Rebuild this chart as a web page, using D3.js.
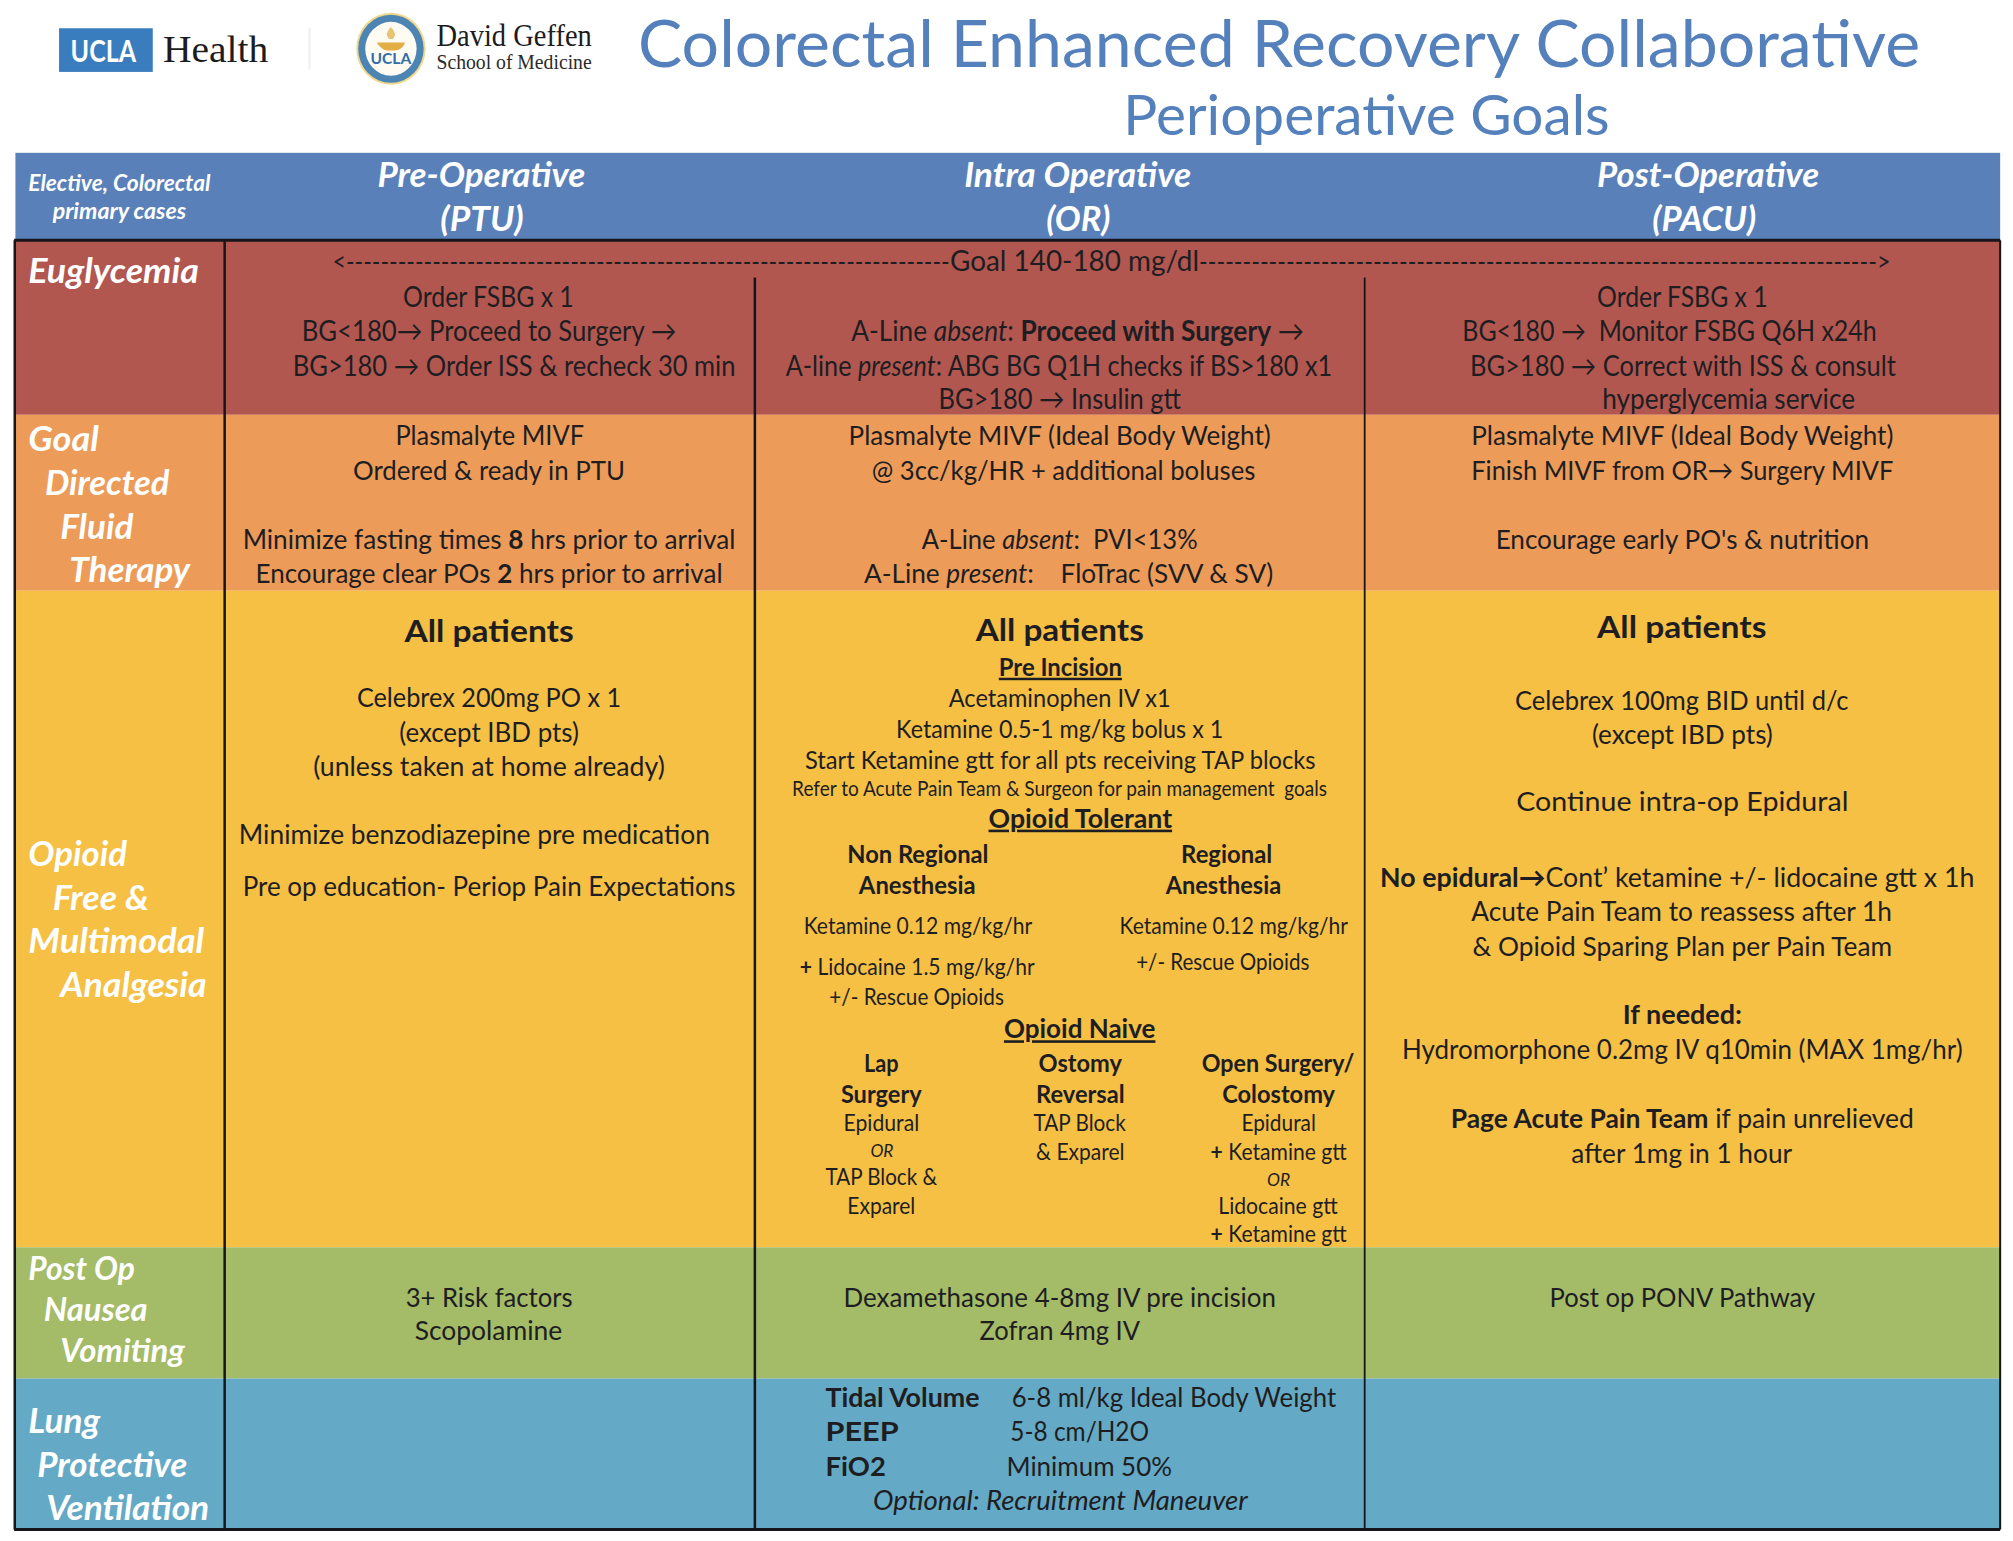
<!DOCTYPE html>
<html><head><meta charset="utf-8">
<script src="https://cdn.jsdelivr.net/npm/d3@7/dist/d3.min.js"></script>
<style>html,body{margin:0;background:#fff}svg{display:block}text{white-space:pre;font-family:Lato,Carlito,sans-serif}</style>
</head><body><div id="c"></div>
<script>
// ---- content ----
const titleLines = ["Colorectal Enhanced Recovery Collaborative","Perioperative Goals"];
const columnLabels = ["Pre-Operative","(PTU)","Intra Operative","(OR)","Post-Operative","(PACU)"];
const cornerLabels = ["Elective, Colorectal","primary cases"];
const rowNames = ["Euglycemia","Goal Directed Fluid Therapy","Opioid Free & Multimodal Analgesia","Post Op Nausea Vomiting","Lung Protective Ventilation"];
const rowLabelLines = ["Euglycemia","Goal","Directed","Fluid","Therapy","Opioid","Free &","Multimodal","Analgesia","Post Op","Nausea","Vomiting","Lung","Protective","Ventilation"];
const goalLine = ["<----------------------------------------------------------------------","Goal 140-180 mg/dl","------------------------------------------------------------------------------>"];
const euPre = ["Order FSBG x 1","BG<180→ Proceed to Surgery →","BG>180 → Order ISS & recheck 30 min"];
const euIntra = ["A-Line ~~absent~~: **Proceed with Surgery** →","A-line ~~present~~: ABG BG Q1H checks if BS>180 x1","BG>180 → Insulin gtt"];
const euPost = ["Order FSBG x 1","BG<180 →  Monitor FSBG Q6H x24h","BG>180 → Correct with ISS & consult","hyperglycemia service"];
const fluidPre = ["Plasmalyte MIVF","Ordered & ready in PTU","Minimize fasting times **8** hrs prior to arrival","Encourage clear POs **2** hrs prior to arrival"];
const fluidIntra = ["Plasmalyte MIVF (Ideal Body Weight)","@ 3cc/kg/HR + additional boluses","A-Line ~~absent~~:  PVI<13%","A-Line ~~present~~:    FloTrac (SVV & SV)"];
const fluidPost = ["Plasmalyte MIVF (Ideal Body Weight)","Finish MIVF from OR→ Surgery MIVF","Encourage early PO's & nutrition"];
const painPre = ["**All patients**","Celebrex 200mg PO x 1","(except IBD pts)","(unless taken at home already)","Minimize benzodiazepine pre medication","Pre op education- Periop Pain Expectations"];
const painIntraTop = ["**All patients**","__Pre Incision__","Acetaminophen IV x1","Ketamine 0.5-1 mg/kg bolus x 1","Start Ketamine gtt for all pts receiving TAP blocks","Refer to Acute Pain Team & Surgeon for pain management  goals","__Opioid Tolerant__"];
const painTolerant = ["**Non Regional**","**Anesthesia**","**Regional**","**Anesthesia**","Ketamine 0.12 mg/kg/hr","Ketamine 0.12 mg/kg/hr","**+** Lidocaine 1.5 mg/kg/hr","+/- Rescue Opioids","+/- Rescue Opioids"];
const painNaive = ["__Opioid Naive__","**Lap**","**Surgery**","**Ostomy**","**Reversal**","**Open Surgery/**","**Colostomy**","Epidural","~~OR~~","TAP Block &","Exparel","TAP Block","& Exparel","Epidural","**+** Ketamine gtt","~~OR~~","Lidocaine gtt","**+** Ketamine gtt"];
const painPost = ["**All patients**","Celebrex 100mg BID until d/c","(except IBD pts)","Continue intra-op Epidural","**No epidural→**Cont’ ketamine +/- lidocaine gtt x 1h","Acute Pain Team to reassess after 1h","& Opioid Sparing Plan per Pain Team","**If needed:**","Hydromorphone 0.2mg IV q10min (MAX 1mg/hr)","**Page Acute Pain Team** if pain unrelieved","after 1mg in 1 hour"];
const ponvPre = ["3+ Risk factors","Scopolamine"];
const ponvIntra = ["Dexamethasone 4-8mg IV pre incision","Zofran 4mg IV"];
const ponvPost = ["Post op PONV Pathway"];
const lungIntra = ["**Tidal Volume**","6-8 ml/kg Ideal Body Weight","**PEEP**","5-8 cm/H2O","**FiO2**","Minimum 50%","~~Optional: Recruitment Maneuver~~"];

// ---- layout (reference coordinates in the 1568×1200 view): [left, right, baseline, font px] ----
const W=2013,H=1541;
const x=d3.scaleLinear().domain([0,1568]).range([0,W]);
const y=d3.scaleLinear().domain([0,1200]).range([0,H]);
const bandY=[187,323,460,971.3,1073.5,1191];
const rowFill=["#B25650","#EC9B58","#F5C044","#A4BB67","#64A9C5"];
const headFill="#5A80B9", ink="#1E1E22";
const B=27,E=28,S=24.5,K=22.5;
const L={
 euPre:[[314,447,238.7,E],[235,527,265.7,E],[228,573,292.7,E]],
 euIntra:[[663,1016,265.7,E],[612,1038,292.7,E],[731,920,318.7,E]],
 euPost:[[1244,1377,238.7,E],[1139,1462,265.7,E],[1145,1477,292.7,E],[1248,1445,318.7,E]],
 fluidPre:[[308,455,346.7,B],[275,487,373.7,B],[189,573,427.7,B],[199,563,453.7,B]],
 fluidIntra:[[661,990,346.7,B],[679,978,373.7,B],[718,933,427.5,B],[673,992,453.7,B]],
 fluidPost:[[1146,1475,346.7,B],[1146,1475,373.7,B],[1165,1456,427.5,B]],
 painPre:[[315,447,500,30],[278,484,550.5,B],[311,451,577.5,B],[244,518,604.5,B],[186,553,657.5,B],[189,573,697.5,B]],
 painIntraTop:[[760,891,499.5,30],[778,874,526.2,S],[739,912,550.5,S],[698,953,575,S],[627,1025,599,S],[617,1034,619.7,20.5],[770,913,644.5,26]],
 painTolerant:[[660,770,672,S],[669,760,696.5,S],[920,991,672,S],[908,998,696.5,S],[626,804,727.5,K],[872,1050,727.5,K],[623,806,759.5,K],[885,1020,755.5,K],[646,782,782.5,K]],
 painNaive:[[782,900,808.5,26],[673,700,834.5,S],[655,718,858.8,S],[809,874,834.5,S],[807,876,858.8,S],[936,1055,834.5,S],[952,1040,858.8,S],[657,716,881,K],[678,696,901,17.5],[643,730,922.5,K],[660,713,945,K],[805,877,881,K],[807,876,903.5,K],[967,1025,881,K],[943,1049,903.5,K],[987,1005,923.5,17.5],[949,1042,945,K],[943,1049,966.8,K]],
 painPost:[[1244,1376,496.5,30],[1180,1440,552.5,B],[1240,1381,579.5,B],[1181,1440,631.5,B],[1075,1538,690.5,B],[1146,1474,717.5,B],[1147,1474,744.5,B],[1264,1357,797.5,B],[1092,1529,824.5,B],[1130,1491,878.5,B],[1224,1396,905.5,B]],
 ponvPre:[[316,446,1017.5,B],[323,438,1043.8,B]],
 ponvIntra:[[657,994,1017.5,B],[763,888,1043.8,B]],
 ponvPost:[[1207,1414,1017.5,B]],
 lungIntra:[[643,763,1095.5,B],[788,1041,1095.5,B],[643,700,1122.5,B],[787,895,1122.5,B],[643,690,1149.5,B],[784,913,1149.5,B],[680,972,1176,B]],
 goal:[[259,740,211,B],[740,934,211,E],[934,1473,211,B]],
 title:[[497,1496,52,65],[875,1254,105.5,56]],
 cols:[[294,456,146,34],[343,408,180,34],[751,928,146,34],[815,865,180,34],[1244,1417,146,34],[1287,1368,180,34]],
 corner:[[22,164,148.5,22],[41,145,170.5,22]],
 rowLab:[[22,155,220,34],[22,77,351.5,34],[35,132,385.5,34],[47,104,419.5,34],[54,148,453.5,34],[22,99,674.5,34],[41,116,708.5,34],[22,159,742.5,34],[47,161,776.5,34],[22,105,996.5,32],[34,115,1028.5,32],[47,144,1060.5,32],[22,78,1116,34],[29,146,1150,34],[36,163,1184,34]]
};

const svg=d3.select("#c").append("svg").attr("width",W).attr("height",H).attr("viewBox",[0,0,W,H]);

// fills
svg.append("rect").attr("x",x(12)).attr("y",y(119)).attr("width",x(1558)-x(12)).attr("height",y(187)-y(119)).attr("fill",headFill);
svg.selectAll("rect.band").data(rowFill).join("rect").attr("class","band")
  .attr("x",x(12)).attr("width",x(1558)-x(12))
  .attr("y",(d,i)=>y(bandY[i])).attr("height",(d,i)=>y(bandY[i+1])-y(bandY[i])).attr("fill",d=>d);

// rules
const rules=[[11,187,1558,187,3],[11.5,187,11.5,1191,2.5],[1558,187,1558,1191,2],[11,1191,1558,1191,3],[175,187,175,1191,2.5],[588,216,588,1191,2.5],[1063,216,1063,1191,1.8]];
svg.selectAll("line.rule").data(rules).join("line").attr("class","rule")
  .attr("x1",d=>x(d[0])).attr("y1",d=>y(d[1])).attr("x2",d=>x(d[2])).attr("y2",d=>y(d[3]))
  .attr("stroke","#15151a").attr("stroke-width",d=>d[4]);

// text helper: fits natural width to the measured width horizontally
function put(lines,layout,opt={}){
  lines.forEach((s,i)=>{
    const [a,b,base,fs]=layout[i];
    const t=svg.append("text").attr("font-size",fs).attr("fill",opt.fill||ink);
    if(opt.bold)t.attr("font-weight",700);
    if(opt.italic)t.attr("font-style","italic");
    s.split(/(\*\*.*?\*\*|__.*?__|~~.*?~~)/).filter(Boolean).forEach(p=>{
      const ts=t.append("tspan");
      if(p.startsWith("**")){ts.attr("font-weight",700).text(p.slice(2,-2));}
      else if(p.startsWith("__")){ts.attr("font-weight",700).attr("text-decoration","underline").text(p.slice(2,-2));}
      else if(p.startsWith("~~")){ts.attr("font-style","italic").text(p.slice(2,-2));}
      else ts.text(p);
    });
    const w=t.node().getComputedTextLength();
    const sx=(x(b)-x(a))/w;
    t.attr("transform",`translate(${x(a)},${y(base)}) scale(${sx},1)`);
  });
}
put(titleLines,L.title,{fill:"#5480BC"});
put(columnLabels,L.cols,{fill:"#fff",bold:true,italic:true});
put(cornerLabels,L.corner,{fill:"#fff",bold:true,italic:true});
put(rowLabelLines,L.rowLab,{fill:"#fff",bold:true,italic:true});
put(goalLine,L.goal);
const cells={euPre,euIntra,euPost,fluidPre,fluidIntra,fluidPost,painPre,painIntraTop,painTolerant,painNaive,painPost,ponvPre,ponvIntra,ponvPost,lungIntra};
Object.keys(cells).forEach(k=>put(cells[k],L[k]));

// logos
const serif="'Liberation Serif',serif";
svg.append("rect").attr("x",x(46)).attr("y",y(22)).attr("width",x(119)-x(46)).attr("height",y(56)-y(22)).attr("fill","#3A7DBE");
const logoText=[["UCLA",55,106,48.5,31,"#fff","Lato",700],["Health",127,209,48,38,"#1c1c1c",serif,400],["David Geffen",340,461,35.5,31,"#1c1c1c",serif,400],["School of Medicine",340,461,54,20,"#2a2a2a",serif,400]];
svg.append("line").attr("x1",x(241)).attr("x2",x(241)).attr("y1",y(22)).attr("y2",y(54)).attr("stroke","#eee").attr("stroke-width",2);
const lx=304.5,ly=38;
svg.append("ellipse").attr("cx",x(lx)).attr("cy",y(ly)).attr("rx",x(27)).attr("ry",y(28)).attr("fill","#F0D88A");
svg.append("ellipse").attr("cx",x(lx)).attr("cy",y(ly)).attr("rx",x(25.5)).attr("ry",y(26.5)).attr("fill","#4C84B4");
svg.append("ellipse").attr("cx",x(lx)).attr("cy",y(ly)).attr("rx",x(20)).attr("ry",y(21)).attr("fill","#FDFBF2");
svg.append("path").attr("d",`M${x(lx)} ${y(21)}q7 7 2 12h-4q-5 -5 2 -12z`).attr("fill","#E9C477");
svg.append("path").attr("d",`M${x(lx-11)} ${y(33)}h${x(22)}q-2 7 -${x(8)} 8h-${x(6)}q-6 -1 -${x(8)} -8z`).attr("fill","#E3AE45");
logoText.forEach(([s,a,b,base,fs,f,ff,wt])=>{
  const t=svg.append("text").attr("font-size",fs).attr("fill",f).style("font-family",ff).attr("font-weight",wt).text(s);
  const w=t.node().getComputedTextLength();
  t.attr("transform",`translate(${x(a)},${y(base)}) scale(${(x(b)-x(a))/w},1)`);
});
svg.append("text").attr("font-size",15.5).attr("font-weight",700).attr("fill","#2F6CA8").attr("text-anchor","middle").attr("x",x(lx)).attr("y",y(50)).text("UCLA");
</script></body></html>
